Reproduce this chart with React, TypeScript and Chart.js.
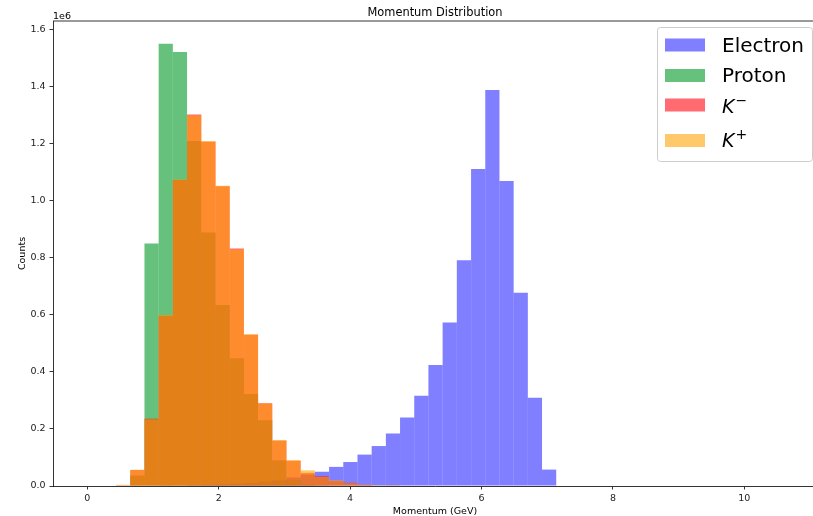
import { useEffect, useRef } from "react";
import { Chart, registerables } from "chart.js";

Chart.register(...registerables);

// Histogram bins: left edges (GeV) and common bin width
const binStart = [
  0.438, 0.654, 0.870, 1.086, 1.302, 1.519, 1.735, 1.951, 2.167, 2.383,
  2.599, 2.815, 3.031, 3.247, 3.463, 3.680, 3.896, 4.112, 4.328, 4.544,
  4.760, 4.976, 5.192, 5.408, 5.624, 5.841, 6.057, 6.273, 6.489, 6.705,
  6.921,
];
const binWidth = 0.2161;

// Counts per bin, in units of 1e6
const electronCounts = [
  0, 0, 0, 0.001, 0.002, 0.003, 0.004, 0.006, 0.008, 0.011,
  0.015, 0.02, 0.03, 0.04, 0.05, 0.067, 0.084, 0.11, 0.14, 0.184,
  0.24, 0.316, 0.424, 0.573, 0.791, 1.111, 1.388, 1.069, 0.677, 0.309,
  0.0575,
];
const protonCounts = [
  0, 0.037, 0.85, 1.55, 1.521, 1.209, 0.888, 0.634, 0.448, 0.322,
  0.2305, 0.09, 0.02, 0.005, 0.001,
];
const kMinusCounts = [
  0.003, 0.056, 0.236, 0.597, 1.072, 1.302, 1.206, 1.05, 0.832, 0.53,
  0.29, 0.159, 0.088, 0.046, 0.034, 0.017, 0.011, 0.004, 0.002, 0.001,
];
const kPlusCounts = [
  0.004, 0.057, 0.234, 0.599, 1.074, 1.298, 1.209, 1.052, 0.829, 0.532,
  0.289, 0.161, 0.091, 0.055, 0.032, 0.02, 0.01, 0.005, 0.003, 0.001,
];

const xTicks = [0, 2, 4, 6, 8, 10];
const yTicks = [0, 0.2, 0.4, 0.6, 0.8, 1.0, 1.2, 1.4, 1.6];

const electronColor = "rgba(0, 0, 255, 0.5)";
const protonColor = "rgba(20, 160, 56, 0.65)";
const kMinusColor = "rgba(255, 0, 10, 0.58)";
const kPlusColor = "rgba(255, 162, 0, 0.58)";

const FONT = "'DejaVu Sans', sans-serif";
const SCALE = 1e6;

function toPoints(values: number[]) {
  return values
    .map((v, i) => ({ x: binStart[i] + binWidth / 2, y: v * SCALE }))
    .filter((p) => p.y > 0);
}

// Spines, titles and the legend (with K superscripts) drawn on the canvas
const decorations = {
  id: "decorations",
  afterDraw(chart: Chart) {
    const { ctx, chartArea } = chart;
    const { left, right, top, bottom } = chartArea;
    ctx.save();

    ctx.strokeStyle = "#000";
    ctx.lineWidth = 0.8;
    ctx.beginPath();
    ctx.moveTo(left, top);
    ctx.lineTo(right, top);
    ctx.moveTo(right, top);
    ctx.lineTo(right, bottom);
    ctx.stroke();

    ctx.fillStyle = "#000";
    ctx.textAlign = "center";
    ctx.textBaseline = "alphabetic";
    ctx.font = `11.4px ${FONT}`;
    ctx.fillText("Momentum Distribution", (left + right) / 2, 16);

    ctx.font = `9.5px ${FONT}`;
    ctx.fillText("Momentum (GeV)", (left + right) / 2, 514);

    ctx.textAlign = "left";
    ctx.fillText("1e6", left, 19);

    ctx.save();
    ctx.translate(25, (top + bottom) / 2);
    ctx.rotate(-Math.PI / 2);
    ctx.textAlign = "center";
    ctx.fillText("Counts", 0, 0);
    ctx.restore();

    // legend frame
    ctx.beginPath();
    ctx.roundRect(657.5, 27.5, 155, 134, 3);
    ctx.fillStyle = "rgba(255,255,255,0.8)";
    ctx.fill();
    ctx.strokeStyle = "rgba(204,204,204,1)";
    ctx.lineWidth = 1;
    ctx.stroke();

    const rows = [
      { color: electronColor, swatchTop: 38.5, baseline: 51.5, text: "Electron", sup: "" },
      { color: protonColor, swatchTop: 69, baseline: 82, text: "Proton", sup: "" },
      { color: kMinusColor, swatchTop: 98.5, baseline: 112.5, text: "K", sup: "\u2212" },
      { color: kPlusColor, swatchTop: 134, baseline: 146.5, text: "K", sup: "+" },
    ];
    for (const r of rows) {
      ctx.fillStyle = r.color;
      ctx.fillRect(665, r.swatchTop, 40, 13);
      ctx.fillStyle = "#000";
      ctx.textAlign = "left";
      if (r.sup) {
        ctx.font = `italic 19px ${FONT}`;
        ctx.fillText(r.text, 722, r.baseline);
        const w = ctx.measureText(r.text).width;
        ctx.font = `14px ${FONT}`;
        ctx.fillText(r.sup, 722 + w + 1, r.baseline - 8);
      } else {
        ctx.font = `20px ${FONT}`;
        ctx.fillText(r.text, 722, r.baseline);
      }
    }
    ctx.restore();
  },
};

export default function App() {
  const canvasRef = useRef<HTMLCanvasElement>(null);

  useEffect(() => {
    if (!canvasRef.current) return;
    const barStyle = {
      grouped: false,
      barPercentage: 1,
      categoryPercentage: 1,
      borderWidth: 0,
      inflateAmount: 0,
    };
    const chart = new Chart(canvasRef.current, {
      type: "bar",
      data: {
        datasets: [
          { label: "Electron", data: toPoints(electronCounts), backgroundColor: electronColor, order: 4, ...barStyle },
          { label: "Proton", data: toPoints(protonCounts), backgroundColor: protonColor, order: 3, ...barStyle },
          { label: "K-", data: toPoints(kMinusCounts), backgroundColor: kMinusColor, order: 2, ...barStyle },
          { label: "K+", data: toPoints(kPlusCounts), backgroundColor: kPlusColor, order: 1, ...barStyle },
        ] as any,
      },
      options: {
        animation: false,
        responsive: false,
        maintainAspectRatio: false,
        devicePixelRatio: 1,
        layout: { padding: { top: 21, right: 23, bottom: 0, left: 0 } },
        plugins: {
          legend: { display: false },
          tooltip: { enabled: false },
          title: { display: false },
        },
        scales: {
          x: {
            type: "linear",
            min: -0.522,
            max: 11.106,
            offset: false,
            afterBuildTicks: (s: any) => {
              s.ticks = xTicks.map((v) => ({ value: v }));
            },
            afterFit: (s: any) => {
              s.height = 30;
            },
            grid: {
              display: true,
              offset: false,
              drawOnChartArea: false,
              drawTicks: true,
              tickLength: 3.5,
              tickColor: "#000",
              tickWidth: 0.8,
            },
            border: { display: true, color: "#000", width: 0.8 },
            ticks: {
              font: { family: FONT, size: 9.5 },
              color: "#222",
              padding: 3,
              maxRotation: 0,
              autoSkip: false,
              callback: (v: any) => String(v),
            },
          },
          y: {
            type: "linear",
            min: 0,
            max: 1.6295 * SCALE,
            afterBuildTicks: (s: any) => {
              s.ticks = yTicks.map((v) => ({ value: v * SCALE }));
            },
            afterFit: (s: any) => {
              s.width = 53;
            },
            grid: {
              display: true,
              offset: false,
              drawOnChartArea: false,
              drawTicks: true,
              tickLength: 3.5,
              tickColor: "#000",
              tickWidth: 0.8,
            },
            border: { display: true, color: "#000", width: 0.8 },
            ticks: {
              font: { family: FONT, size: 9.5 },
              color: "#222",
              padding: 4,
              autoSkip: false,
              callback: (v: any) => (Number(v) / SCALE).toFixed(1),
            },
          },
        },
      },
      plugins: [decorations],
    });
    return () => chart.destroy();
  }, []);

  return (
    <div
      style={{
        position: "fixed",
        left: 0,
        top: 0,
        width: 813,
        height: 516,
        overflow: "hidden",
        background: "#fff",
      }}
    >
      <canvas ref={canvasRef} width={840} height={516} style={{ width: 840, height: 516, display: "block" }} />
    </div>
  );
}
